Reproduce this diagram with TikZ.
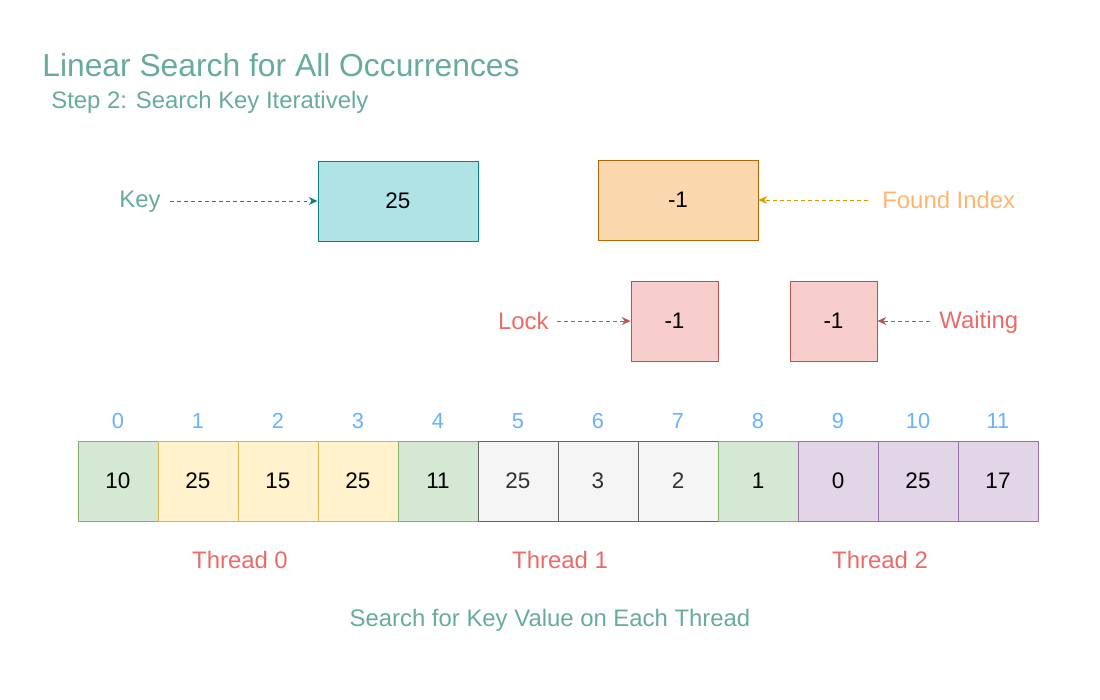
\documentclass[tikz,border=0pt]{standalone}
\usepackage{fontspec}
\setmainfont{Liberation Sans}
\usetikzlibrary{arrows.meta}
\definecolor{teal}{HTML}{67AB9F}
\definecolor{keyfill}{HTML}{B0E3E6}
\definecolor{keydraw}{HTML}{0E8088}
\definecolor{orfill}{HTML}{FAD7AC}
\definecolor{ordraw}{HTML}{B46504}
\definecolor{ortext}{HTML}{FFB570}
\definecolor{orarrow}{HTML}{D79B00}
\definecolor{redfill}{HTML}{F8CECC}
\definecolor{reddraw}{HTML}{B85450}
\definecolor{redtext}{HTML}{EA6B66}
\definecolor{idxblue}{HTML}{66B2FF}
\definecolor{gfill}{HTML}{D5E8D4}
\definecolor{gdraw}{HTML}{82B366}
\definecolor{yfill}{HTML}{FFF2CC}
\definecolor{ydraw}{HTML}{D6B656}
\definecolor{sfill}{HTML}{F5F5F5}
\definecolor{sdraw}{HTML}{666666}
\definecolor{pfill}{HTML}{E1D5E7}
\definecolor{pdraw}{HTML}{9673A6}
\tikzset{
  lbl/.style={font=\fontsize{13.6pt}{16pt}\selectfont, inner sep=0pt},
  num/.style={font=\fontsize{12.4pt}{14pt}\selectfont, inner sep=0pt},
  box/.style={draw, line width=0.5pt, inner sep=0pt, font=\fontsize{12.8pt}{15pt}\selectfont},
  cellbox/.style={box, minimum width=80*0.02cm, minimum height=80*0.02cm},
  darr/.style={dashed, dash pattern=on 2pt off 2pt, line width=0.55pt, -{Stealth[length=5pt,width=4.5pt]}},
  gcell/.style={cellbox, fill=gfill, draw=gdraw},
  ycell/.style={cellbox, fill=yfill, draw=ydraw},
  scell/.style={cellbox, fill=sfill, draw=sdraw, text=black!80},
  pcell/.style={cellbox, fill=pfill, draw=pdraw},
}
\begin{document}
\begin{tikzpicture}[x=0.02cm, y=-0.02cm]
\useasboundingbox (0,0) rectangle (1100,700);
% titles
\node[anchor=west, inner sep=0pt, text=teal, font=\fontsize{18.1pt}{21pt}\selectfont] (title) at (42,65) {Linear Search for All Occurrences};
\node[anchor=west, lbl, text=teal] (sub) at (51,102) {Step 2: Search Key Iteratively};
% key
\node[box, fill=keyfill, draw=keydraw, minimum width=160*0.02cm, minimum height=80*0.02cm] (key) at (398,201) {25};
\node[lbl, text=teal, anchor=east] (keylbl) at (161,202) {Key};
\draw[darr, draw=keydraw] ([xshift=9*0.02cm]keylbl.east |- key.west) -- (key.west);
% found index
\node[box, fill=orfill, draw=ordraw, minimum width=160*0.02cm, minimum height=80*0.02cm] (found) at (678,200) {-1};
\node[lbl, text=ortext, anchor=west] (foundlbl) at (882,200) {Found Index};
\draw[darr, draw=orarrow] ([xshift=-14*0.02cm]foundlbl.west |- found.east) -- (found.east);
% lock & waiting
\node[box, fill=redfill, draw=reddraw, minimum width=87*0.02cm, minimum height=80*0.02cm] (lock) at (674.5,321) {-1};
\node[box, fill=redfill, draw=reddraw, minimum width=87*0.02cm, minimum height=80*0.02cm] (wait) at (833.5,321) {-1};
\node[lbl, text=redtext, anchor=east] (locklbl) at (549,321) {Lock};
\node[lbl, text=redtext, anchor=west] (waitlbl) at (939,322) {Waiting};
\draw[darr, draw=reddraw] ([xshift=8*0.02cm]locklbl.east |- lock.west) -- (lock.west);
\draw[darr, draw=reddraw] ([xshift=-9*0.02cm]waitlbl.west |- wait.east) -- (wait.east);
% array
\node[gcell] (c0) at (118,481) {10};
\node[ycell] (c1) at (198,481) {25};
\node[ycell] (c2) at (278,481) {15};
\node[ycell] (c3) at (358,481) {25};
\node[gcell] (c4) at (438,481) {11};
\node[scell] (c5) at (518,481) {25};
\node[scell] (c6) at (598,481) {3};
\node[scell] (c7) at (678,481) {2};
\node[gcell] (c8) at (758,481) {1};
\node[pcell] (c9) at (838,481) {0};
\node[pcell] (c10) at (918,481) {25};
\node[pcell] (c11) at (998,481) {17};
\foreach \i in {0,...,11}{
  \node[num, text=idxblue] (i\i) at (118+80*\i,421) {\i};
}
\node[lbl, text=redtext] (t0) at (240,560) {Thread 0};
\node[lbl, text=redtext] (t1) at (560,560) {Thread 1};
\node[lbl, text=redtext] (t2) at (880,560) {Thread 2};
\node[lbl, text=teal] (foot) at (550,620) {Search for Key Value on Each Thread};
\end{tikzpicture}
\end{document}
